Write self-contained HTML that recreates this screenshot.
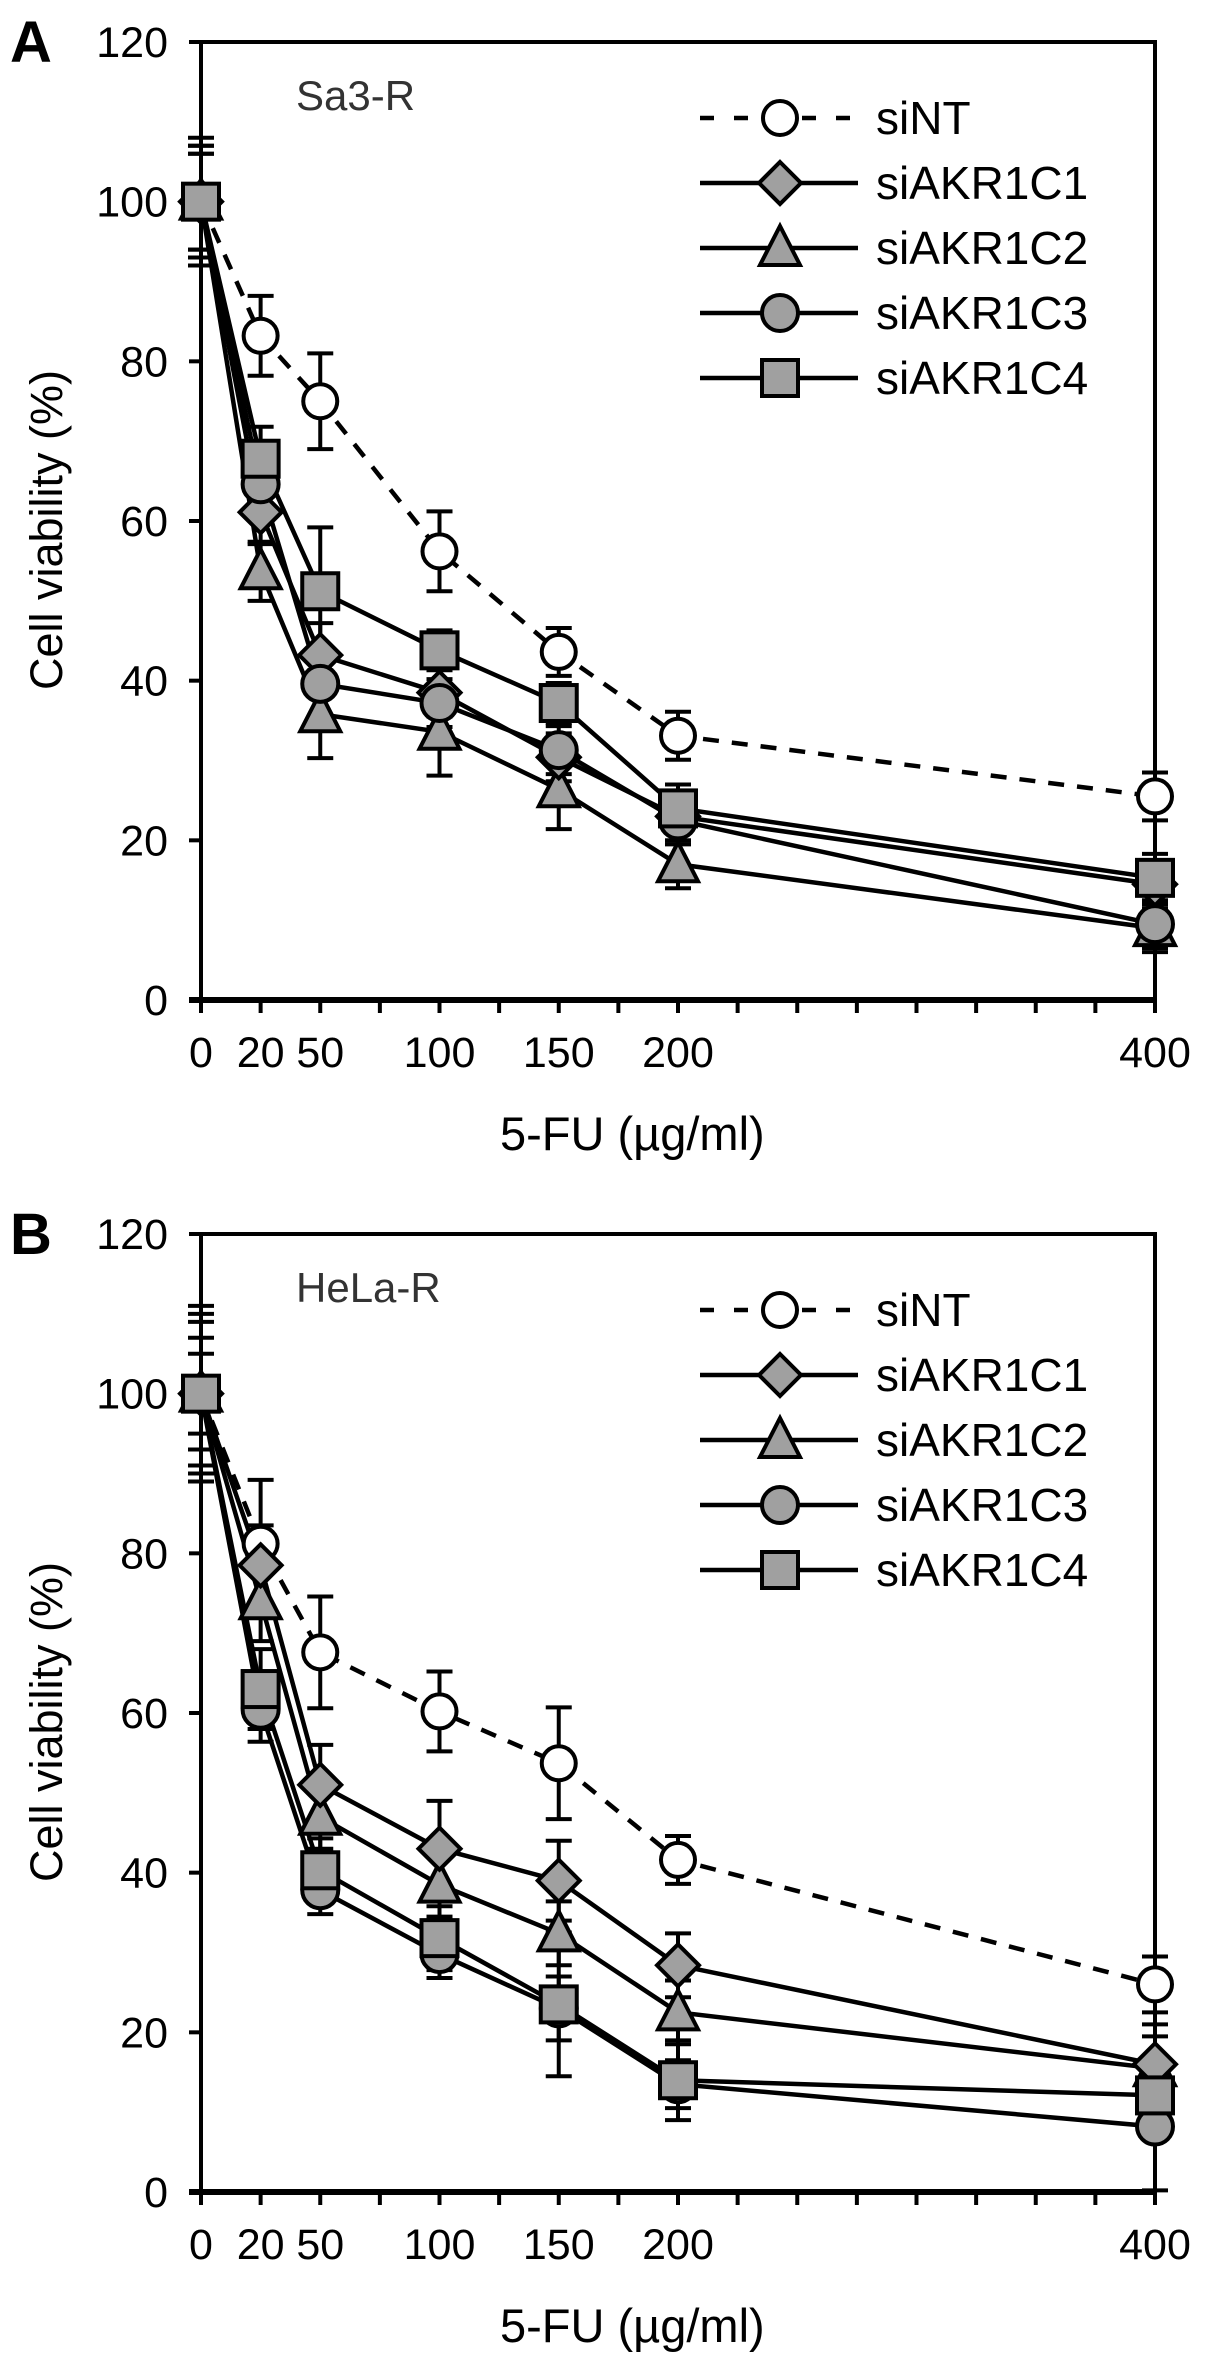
<!DOCTYPE html>
<html><head><meta charset="utf-8"><style>
html,body{margin:0;padding:0;background:#fff;}
svg{display:block;font-family:"Liberation Sans",Arial,sans-serif;}
</style></head><body>
<svg id="fig" width="1205" height="2372" viewBox="0 0 1205 2372" xmlns="http://www.w3.org/2000/svg"></svg>
<script>
// ---- data ----
const doseLabels = ["0","20","50","100","150","200","400"];
const dosePositions = [0,25,50,100,150,200,400]; // axis units where each dose is plotted
const seriesNames = ["siNT","siAKR1C1","siAKR1C2","siAKR1C3","siAKR1C4"];
const yTicks = [0,20,40,60,80,100,120];

const aNT  = [100,83.2,75,56.2,43.6,33.1,25.5];
const aC1  = [100,61.1,43.2,38.5,30.4,23,14.5];
const aC2  = [100,53.7,35.8,33.6,26.4,17,9];
const aC3  = [100,64.6,39.6,37.2,31.3,22.5,9.5];
const aC4  = [100,67.8,51.2,43.8,37.2,24,15.3];
const aNTe = [7,5,6,5,3,3,3];
const aC1e = [6,4,4,3,3,3,3];
const aC2e = [8,3.7,5.5,5.5,5,3,3];
const aC3e = [6,4,4,3,3,3,3];
const aC4e = [7,4,8,2.5,2.5,3,3];

const bNT  = [100,81.2,67.6,60.2,53.7,41.6,26];
const bC1  = [100,78.5,51,43,39,28.4,16];
const bC2  = [100,74,47,38.5,32.4,22.5,15.5];
const bC3  = [100,60.4,37.8,29.8,23,13.5,8.2];
const bC4  = [100,63,40.3,31.8,23.5,14,12.1];
const bNTe = [11,8,7,5,7,3,3.5];
const bC1e = [9,5,5,6,5,4,5];
const bC2e = [7,5,4,4,4,4,4];
const bC3e = [5,4,3,3,4,3,8];
const bC4e = [10,5,4,4,9,5,5];

const NS = "http://www.w3.org/2000/svg";
const svg = document.getElementById("fig");
function mk(tag, attrs, parent){
  const e = document.createElementNS(NS, tag);
  for (const k in attrs) e.setAttribute(k, attrs[k]);
  (parent||svg).appendChild(e);
  return e;
}
const X0 = 201, X1 = 1155;
function xs(v){ return X0 + (X1 - X0) * v / 400; }

function panel(letter, cell, dy, vals, errs){
  const Y0 = 1000 + dy, Y1 = 42 + dy;
  const ys = v => Y0 - (Y0 - Y1) * v / 120;
  const g = mk("g", {});
  
  

  const pl = mk("text", {x:10, y:62+dy, "font-size":58, "font-weight":"bold"}, g);
  pl.textContent = letter;
  
  

  // frame
  const fr = mk("path", {d:`M${X0} ${Y1} H${X1} V${Y0} H${X0} Z`, fill:"none", stroke:"#000", "stroke-width":4}, g);
  
  
  const xa = mk("line", {x1:X0-12, y1:Y0, x2:X1, y2:Y0, stroke:"#000", "stroke-width":6}, g);
  
  

  yTicks.forEach(t => {
    const y = ys(t);
    const tk = mk("line", {x1:X0-12, y1:y, x2:X0, y2:y, stroke:"#000", "stroke-width":4}, g);
    
    
    const tl = mk("text", {x:168, y:y+15, "font-size":43, "text-anchor":"end"}, g);
    tl.textContent = t;
    
    
  });
  for (let v = 0; v <= 400; v += 25){
    const tk = mk("line", {x1:xs(v), y1:Y0, x2:xs(v), y2:Y0+13, stroke:"#000", "stroke-width":4}, g);
    
    
  }
  doseLabels.forEach((lab, i) => {
    const tl = mk("text", {x:xs(dosePositions[i]), y:Y0+67, "font-size":43, "text-anchor":"middle"}, g);
    tl.textContent = lab;
    
    
  });
  const xt = mk("text", {x:500, y:Y0+150, "font-size":47}, g);
  xt.textContent = "5-FU (µg/ml)";
  
  
  const yt = mk("text", {x:0, y:0, "font-size":45, "text-anchor":"middle", transform:`translate(62 ${530+dy}) rotate(-90)`}, g);
  yt.textContent = "Cell viability (%)";
  
  
  const ct = mk("text", {x:296, y:110+dy, "font-size":42, fill:"#333"}, g);
  ct.textContent = cell;
  
  

  // error bars
  vals.forEach((s, si) => {
    s.forEach((v, i) => {
      const x = xs(dosePositions[i]), e = errs[si][i];
      const eb = mk("path", {d:`M${x} ${ys(v-e)} V${ys(v+e)} M${x-13} ${ys(v-e)} H${x+13} M${x-13} ${ys(v+e)} H${x+13}`, stroke:"#000", "stroke-width":4, fill:"none"}, g);
      
      
    });
  });
  // lines
  vals.forEach((s, si) => {
    const pts = s.map((v, i) => xs(dosePositions[i]) + "," + ys(v)).join(" ");
    const ln = mk("polyline", {points:pts, fill:"none", stroke:"#000", "stroke-width":4.5, "stroke-dasharray": si===0 ? "16 13" : "none"}, g);
    
    
  });
  // markers (draw siNT first, then C2, C1, C3, C4)
  [0,2,1,3,4].forEach(si => {
    vals[si].forEach((v, i) => {
      const m = marker(g, si, xs(dosePositions[i]), ys(v));
      
      
    });
  });

  // legend
  const lg = mk("g", {}, g);
  
  
  seriesNames.forEach((n, si) => {
    const y = 118 + dy + si * 65;
    const eg = mk("g", {}, lg);
    
    
    mk("line", {x1:700, y1:y, x2:858, y2:y, stroke:"#000", "stroke-width":4.5, "stroke-dasharray": si===0 ? "14 20" : "none"}, eg);
    marker(eg, si, 780, y);
    const t = mk("text", {x:876, y:y+16, "font-size":46}, eg);
    t.textContent = n;
  });
}

function marker(parent, si, x, y){
  const st = {stroke:"#000", "stroke-width":4};
  if (si === 0) return mk("circle", Object.assign({cx:x, cy:y, r:17, fill:"#fff"}, st), parent);
  if (si === 1) return mk("polygon", Object.assign({points:`${x},${y-21} ${x+21},${y} ${x},${y+21} ${x-21},${y}`, fill:"#a0a0a0"}, st), parent);
  if (si === 2) return mk("polygon", Object.assign({points:`${x},${y-22} ${x+20},${y+17} ${x-20},${y+17}`, fill:"#a0a0a0"}, st), parent);
  if (si === 3) return mk("circle", Object.assign({cx:x, cy:y, r:18, fill:"#a0a0a0"}, st), parent);
  return mk("rect", Object.assign({x:x-18, y:y-18, width:36, height:36, fill:"#a0a0a0"}, st), parent);
}

panel("A", "Sa3-R", 0, [aNT,aC1,aC2,aC3,aC4], [aNTe,aC1e,aC2e,aC3e,aC4e]);
panel("B", "HeLa-R", 1192, [bNT,bC1,bC2,bC3,bC4], [bNTe,bC1e,bC2e,bC3e,bC4e]);
</script>
</body></html>
